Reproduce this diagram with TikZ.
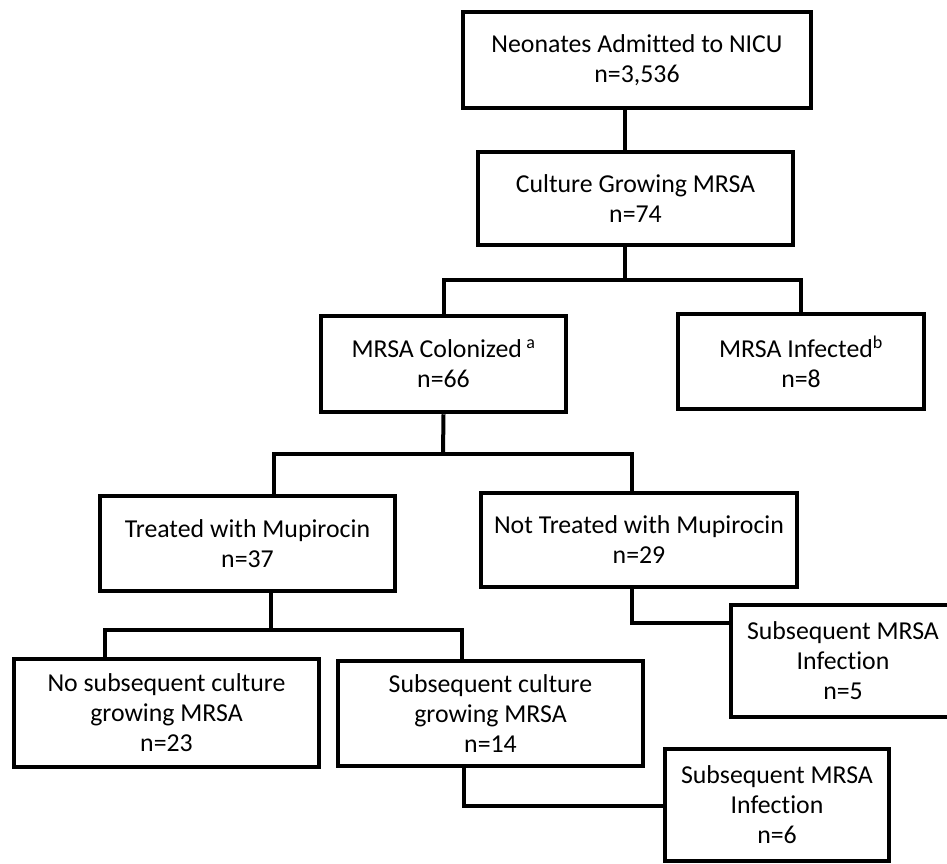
\documentclass[tikz,border=0pt]{standalone}
\usepackage{fontspec}
\setmainfont{Carlito}[Ligatures={NoCommon}]
\begin{document}
\begin{tikzpicture}[x=1pt,y=-1pt,
  box/.style={draw, line width=4.5pt, align=center, inner sep=0pt,
    font=\fontsize{25.8}{30}\selectfont},
  conn/.style={line width=4pt}]
\useasboundingbox (0,0) rectangle (947,863);
\clip (0,0) rectangle (947,863);
% boxes
\node[box, minimum width=348, minimum height=96] (n1) at (637,60) {Neonates Admitted to NICU\\n=3,536};
\node[box, minimum width=315, minimum height=93] (n2) at (635.5,198.5) {Culture Growing MRSA\\n=74};
\node[box, minimum width=245, minimum height=96] (n3) at (443.5,364) {MRSA Colonized\,\textsuperscript{a}\\n=66};
\node[box, minimum width=246, minimum height=95] (n4) at (801,361.5) {MRSA Infected\textsuperscript{b}\\n=8};
\node[box, minimum width=295, minimum height=95] (n5) at (247.5,543.5) {Treated with Mupirocin\\n=37};
\node[box, minimum width=316, minimum height=94] (n6) at (639,540) {Not Treated with Mupirocin\\n=29};
\node[box, minimum width=305, minimum height=108] (n7) at (166.5,713) {No subsequent culture\\growing MRSA\\n=23};
\node[box, minimum width=305, minimum height=105] (n8) at (490.5,713.5) {Subsequent culture\\growing MRSA\\n=14};
\node[box, minimum width=224, minimum height=112] (n9) at (843,661) {Subsequent MRSA\\Infection\\n=5};
\node[box, minimum width=224, minimum height=112] (n10) at (777,805) {Subsequent MRSA\\Infection\\n=6};
% connector points
\coordinate (b1) at (625,280);
\coordinate (b2) at (443,454);
\coordinate (l2) at (274,454);
\coordinate (r2) at (632,454);
\coordinate (b3) at (271,630);
\coordinate (l3) at (105,630);
\coordinate (r3) at (462,630);
\coordinate (k1) at (632,623);
\coordinate (k2) at (464,806);
% connectors
\draw[conn] (n1.south -| b1) -- (n2.north -| b1);
\draw[conn] (n2.south -| b1) -- (b1);
\draw[conn] (n3.north) |- (b1) -| (n4.north);
\draw[conn] (n3.south) -- (b2);
\draw[conn] (n5.north -| l2) -- (l2) -- (r2) -- (n6.north -| r2);
\draw[conn] (n5.south -| b3) -- (b3);
\draw[conn] (n7.north -| l3) -- (l3) -- (r3) -- (n8.north -| r3);
\draw[conn] (n6.south -| k1) -- (k1) -- (n9.west |- k1);
\draw[conn] (n8.south -| k2) -- (k2) -- (n10.west |- k2);
\end{tikzpicture}
\end{document}
